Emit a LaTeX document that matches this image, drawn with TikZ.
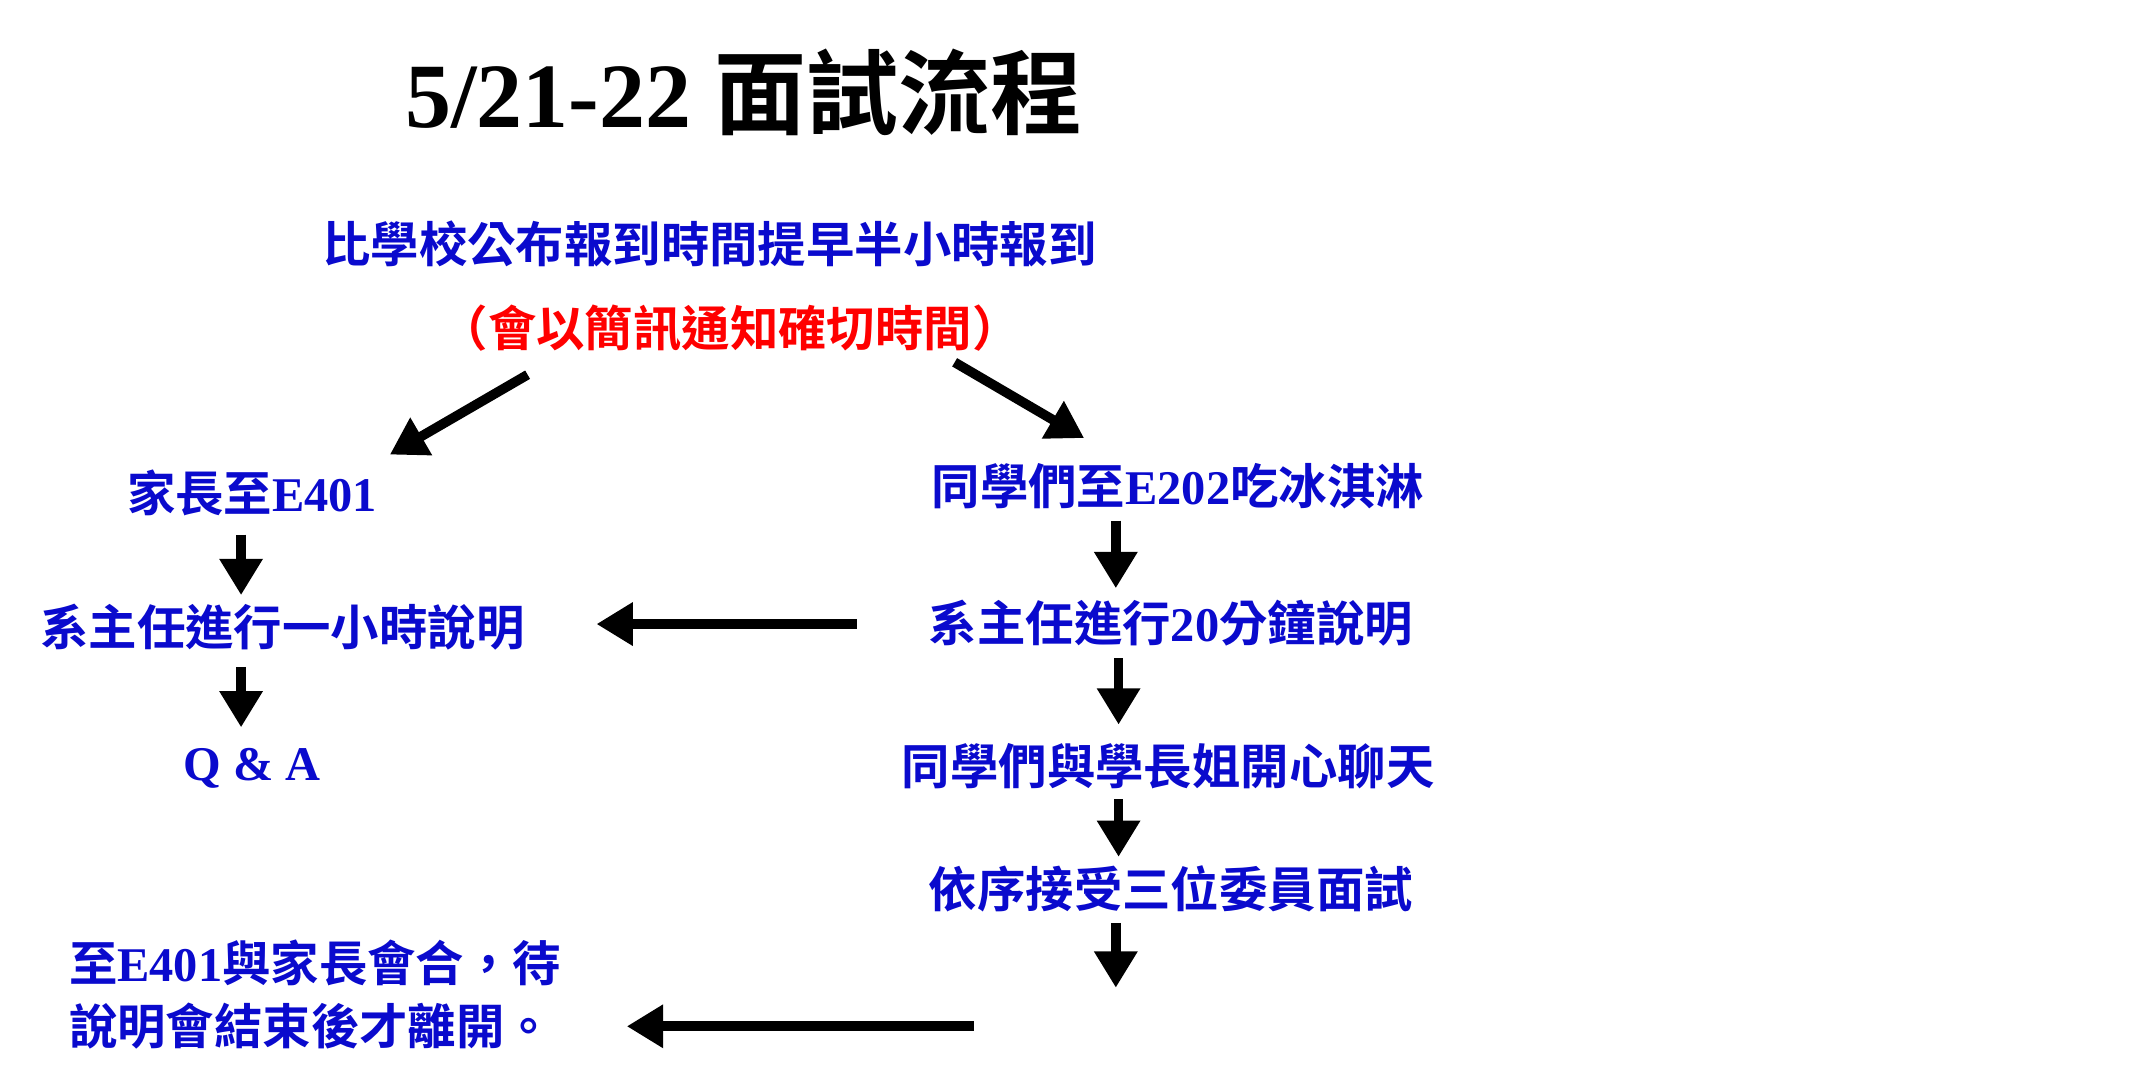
\documentclass[tikz,border=0pt]{standalone}
\usepackage{fontspec}
\setmainfont{Liberation Serif}
\newfontfamily\cjk{Noto Sans CJK TC}[BoldFont={Noto Sans CJK TC Bold}]
\usetikzlibrary{arrows.meta}
\definecolor{stepblue}{RGB}{10,10,205}
\tikzset{
  stage/.style={text=stepblue, font=\bfseries\fontsize{20}{26}\selectfont, inner sep=1pt},
  arrow/.style={line width=4pt, -{Triangle[length=15pt,width=17pt]}, black}
}
\begin{document}
\begin{tikzpicture}[x=0.02cm,y=-0.02cm]
        \useasboundingbox (0,0) rectangle (1560,782);
        % title
        \node[font=\bfseries\fontsize{38}{44}\selectfont] (title) at (540,67) {5/21-22 {\cjk 面試流程}};
        % top
        \node[stage] (report) at (515,177) {\cjk 比學校公布報到時間提早半小時報到};
        \node[stage, text=red] (notice) at (530,238) {\cjk （會以簡訊通知確切時間）};
        % left column
        \node[stage] (parent) at (183,358) {{\cjk 家長至}E401};
        \node[stage] (talkA) at (205,455) {\cjk 系主任進行一小時說明};
        \node[stage] (qa) at (183,558) {Q \& A};
        % right column
        \node[stage] (ice) at (855,353) {{\cjk 同學們至}E202{\cjk 吃冰淇淋}};
        \node[stage] (talkB) at (850,452) {{\cjk 系主任進行}20{\cjk 分鐘說明}};
        \node[stage] (chat) at (848,556) {\cjk 同學們與學長姐開心聊天};
        \node[stage] (exam) at (850,645) {\cjk 依序接受三位委員面試};
        \node[stage, align=left, anchor=west] (leave) at (48,722) {{\cjk 至}E401{\cjk 與家長會合，待}\\[0pt]{\cjk 說明會結束後才離開。}};
        \coordinate (end) at (810,717);
        \coordinate (back) at (707,745);
        % arrows
        \draw[arrow] (383,272) -- (283,330);
        \draw[arrow] (693,263) -- (787,318);
        \draw[arrow] (175,388) -- (175,432);
        \draw[arrow] (175,484) -- (175,528);
        \draw[arrow] (810,378) -- (810,427);
        \draw[arrow] (622,453) -- (433,453);
        \draw[arrow] (812,478) -- (812,526);
        \draw[arrow] (812,580) -- (812,622);
        \draw[arrow] (810,670) -- (end);
        \draw[arrow] (back) -- (455,745);
\end{tikzpicture}
\end{document}
